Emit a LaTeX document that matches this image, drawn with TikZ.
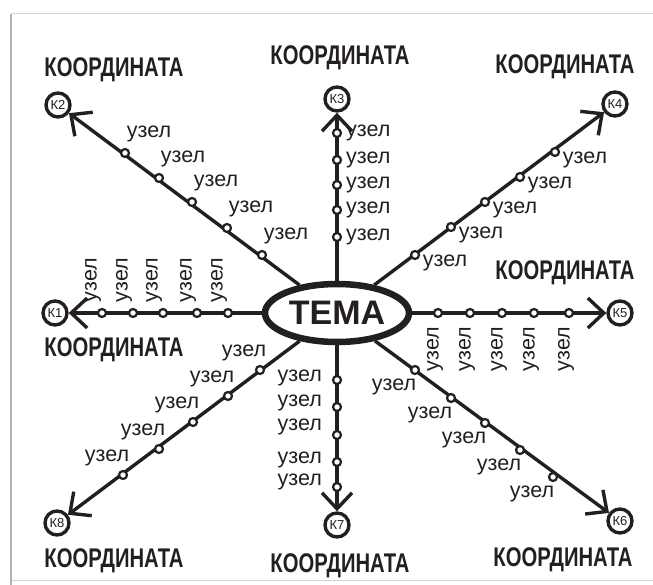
\documentclass[tikz,border=0pt]{standalone}
\usepackage{fontspec}
\setmainfont{Liberation Sans}
\newfontfamily\narrowfont[FakeStretch=0.75]{Liberation Sans}
\usetikzlibrary{arrows.meta, positioning, calc, shapes.geometric}
\definecolor{ink}{HTML}{231F20}
\definecolor{edgegray}{HTML}{D4D4D4}
\tikzset{
  theme/.style={
    ellipse, draw=ink, line width=6.5pt, inner sep=0pt,
    minimum width=144pt, minimum height=58pt,
    font=\fontsize{34}{34}\selectfont\bfseries, text=ink
  },
  kcirc/.style={
    circle, draw=ink, line width=3.4pt, minimum size=24pt, inner sep=0pt,
    font=\fontsize{13}{13}\selectfont, text=ink
  },
  ray/.style={line width=3.4pt, draw=ink,
    -{Straight Barb[length=16pt, width=30pt, line width=3.4pt]}},
  knot/.style={circle, draw=ink, fill=white, line width=2.2pt,
    minimum size=8pt, inner sep=0pt},
  lab/.style={font=\fontsize{21.5}{21.5}\selectfont, text=ink, inner sep=0pt},
  axisname/.style={font=\narrowfont\bfseries\fontsize{27}{27}\selectfont,
    text=ink, inner sep=0pt}
}
\begin{document}
\begin{tikzpicture}[x=1pt, y=-1pt]
  \useasboundingbox (0,0) rectangle (653,585);
  % edge of the card
  \draw[edgegray, line width=1pt] (11,14) -- (653,14);
  \draw[edgegray, line width=1pt] (11,580) -- (653,580);
  \draw[gray!60, line width=2pt] (11,14) -- (11,585);

  % centre and the eight coordinates
  \node[theme] (tema) at (337,313) {ТЕМА};
  \node[kcirc] (k1) at (55,313) {К1};
  \node[kcirc] (k2) at (58,105) {К2};
  \node[kcirc] (k3) at (337,99) {К3};
  \node[kcirc] (k4) at (615,104) {К4};
  \node[kcirc] (k5) at (620,313) {К5};
  \node[kcirc] (k6) at (620,521) {К6};
  \node[kcirc] (k7) at (337,525) {К7};
  \node[kcirc] (k8) at (57,523) {К8};

  \node[axisname] (n1) at (114,350) {КООРДИНАТА};
  \node[axisname] (n2) at (114,70) {КООРДИНАТА};
  \node[axisname] (n3) at (340,58) {КООРДИНАТА};
  \node[axisname] (n4) at (565,67) {КООРДИНАТА};
  \node[axisname] (n5) at (565,273) {КООРДИНАТА};
  \node[axisname] (n6) at (563,560) {КООРДИНАТА};
  \node[axisname] (n7) at (340,566) {КООРДИНАТА};
  \node[axisname] (n8) at (114,561) {КООРДИНАТА};

  \foreach \k in {1,...,8}
    \draw[ray] (tema) -- (k\k);

  % knots
  \foreach \x [count=\i] in {228,197,163,133,102} {
    \node[knot] (k1u\i) at (\x,313) {};
    \node[lab, rotate=90] (k1t\i) at (\x-9,280) {узел};
  }
  \foreach \x/\y [count=\i] in {262/255,227/228,192/202,159/178,125/153} {
    \node[knot] (k2u\i) at (\x,\y) {};
    \node[lab] (k2t\i) at ($(k2u\i)+(24,-19)$) {узел};
  }
  \foreach \y [count=\i] in {237,210,185,160,133} {
    \node[knot] (k3u\i) at (337,\y) {};
    \node[lab, anchor=west] (k3t\i) at (346,\y) {узел};
  }
  \foreach \x/\y [count=\i] in {415/255,451/227,485/202,520/177,555/152} {
    \node[knot] (k4u\i) at (\x,\y) {};
    \node[lab] (k4t\i) at ($(k4u\i)+(30,8)$) {узел};
  }
  \foreach \x [count=\i] in {438,470,502,534,569} {
    \node[knot] (k5u\i) at (\x,313) {};
    \node[lab, rotate=90] (k5t\i) at (\x-3,349) {узел};
  }
  \foreach \x/\y [count=\i] in {415/370,451/398,485/423,520/450,553/477} {
    \node[knot] (k6u\i) at (\x,\y) {};
    \node[lab] (k6t\i) at ($(k6u\i)+(-21,17)$) {узел};
  }
  \foreach \y/\t [count=\i] in {380/378,407/403,435/427,462/460,487/482} {
    \node[knot] (k7u\i) at (337,\y) {};
    \node[lab, anchor=east] (k7t\i) at (322,\t) {узел};
  }
  \foreach \x/\y [count=\i] in {260/370,228/396,193/422,159/449,123/475} {
    \node[knot] (k8u\i) at (\x,\y) {};
    \node[lab] (k8t\i) at ($(k8u\i)+(-16,-17)$) {узел};
  }
\end{tikzpicture}
\end{document}
